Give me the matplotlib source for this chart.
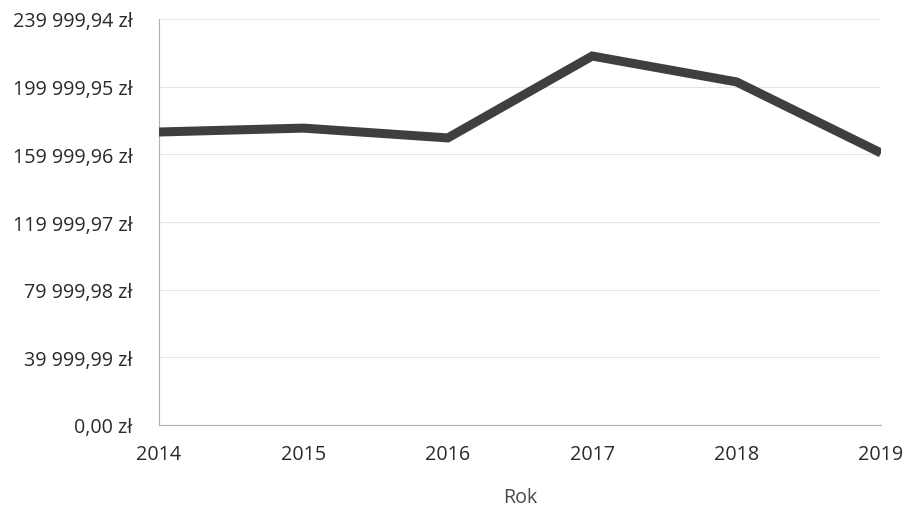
import matplotlib.pyplot as plt
from matplotlib.ticker import FuncFormatter

# data
years = [2014, 2015, 2016, 2017, 2018, 2019]
values = [173200, 175500, 169700, 218100, 202800, 160800]
y_ticks = [0.00, 39999.99, 79999.98, 119999.97, 159999.96, 199999.95, 239999.94]

plt.rcParams['font.family'] = ['Open Sans', 'DejaVu Sans']


def pln(v, pos=None):
    s = f'{v:,.2f}'.replace(',', ' ').replace('.', ',')
    return s + ' zł'


fig = plt.figure(figsize=(9.06, 5.06), dpi=100)
ax = fig.add_axes([159 / 906, 80 / 506, 722 / 906, 406 / 506])

ax.plot(years, values, color='#3f3f3f', linewidth=6.5, solid_capstyle='butt',
        solid_joinstyle='miter', zorder=3)

ax.set_xlim(2014, 2019)
ax.set_ylim(0, 239999.94)
ax.set_yticks(y_ticks)
ax.yaxis.set_major_formatter(FuncFormatter(pln))
ax.set_xticks(years)

ax.grid(axis='y', color='#e6e6e6', linewidth=0.8)
for side in ['top', 'right']:
    ax.spines[side].set_visible(False)
ax.spines['left'].set_color('#b0b0b0')
ax.spines['bottom'].set_color('#b0b0b0')
ax.tick_params(length=0, labelsize=14.2, colors='#2a2a2a')
ax.tick_params(axis='y', pad=19)
ax.tick_params(axis='x', pad=14)
ax.set_xlabel('Rok', fontsize=14.2, color='#4a4a4a', labelpad=16)

fig.savefig('out.png', dpi=100)
